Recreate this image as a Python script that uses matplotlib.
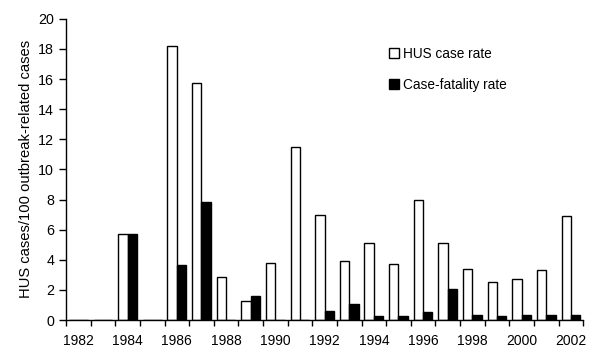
"""HUS case rate and case-fatality rate by year, grouped bars."""

import matplotlib

matplotlib.use("Agg")
import matplotlib.pyplot as plt
import numpy as np

years = list(range(1982, 2003))
hus_rate = [0, 0, 5.7, 0, 18.2, 15.75, 2.85, 1.25, 3.8, 11.5, 7.0, 3.9,
            5.1, 3.7, 8.0, 5.1, 3.4, 2.5, 2.7, 3.35, 6.9]
fatality_rate = [0, 0, 5.7, 0, 3.65, 7.85, 0, 1.6, 0, 0, 0.6, 1.05,
                 0.25, 0.25, 0.55, 2.05, 0.3, 0.25, 0.3, 0.3, 0.3]

plt.rcParams["font.family"] = ["Liberation Sans", "DejaVu Sans"]

fig = plt.figure(figsize=(6.0, 3.62), dpi=100)
ax = fig.add_axes([0.11, 0.116, 0.862, 0.832])

x = np.arange(len(years))
w = 0.38
ax.bar(x - w / 2, hus_rate, w, color="white", edgecolor="black", linewidth=1.0,
       label="HUS case rate")
ax.bar(x + w / 2, fatality_rate, w, color="black", edgecolor="black", linewidth=1.0,
       label="Case-fatality rate")

ax.set_xlim(-0.5, len(years) - 0.5)
ax.set_ylim(0, 20)
ax.set_yticks(range(0, 21, 2))
ax.tick_params(axis="y", labelsize=10.3, length=5, width=1)

ax.set_xticks(x[::2])
ax.set_xticklabels([str(y) for y in years[::2]], fontsize=10)
ax.set_xticks(np.arange(-0.5, len(years), 1), minor=True)
ax.tick_params(axis="x", which="major", length=0, pad=10)
ax.tick_params(axis="x", which="minor", length=4, width=1)

for s in ("top", "right"):
    ax.spines[s].set_visible(False)
for s in ("left", "bottom"):
    ax.spines[s].set_linewidth(1.0)

ax.set_ylabel("HUS cases/100 outbreak-related cases", fontsize=10.6)

ax.legend(loc="upper left", bbox_to_anchor=(0.6, 0.948), frameon=False,
          fontsize=9.8, handlelength=0.75, handleheight=0.75, handletextpad=0.3,
          labelspacing=1.25)

fig.savefig("out.png", dpi=100)
plt.close(fig)
